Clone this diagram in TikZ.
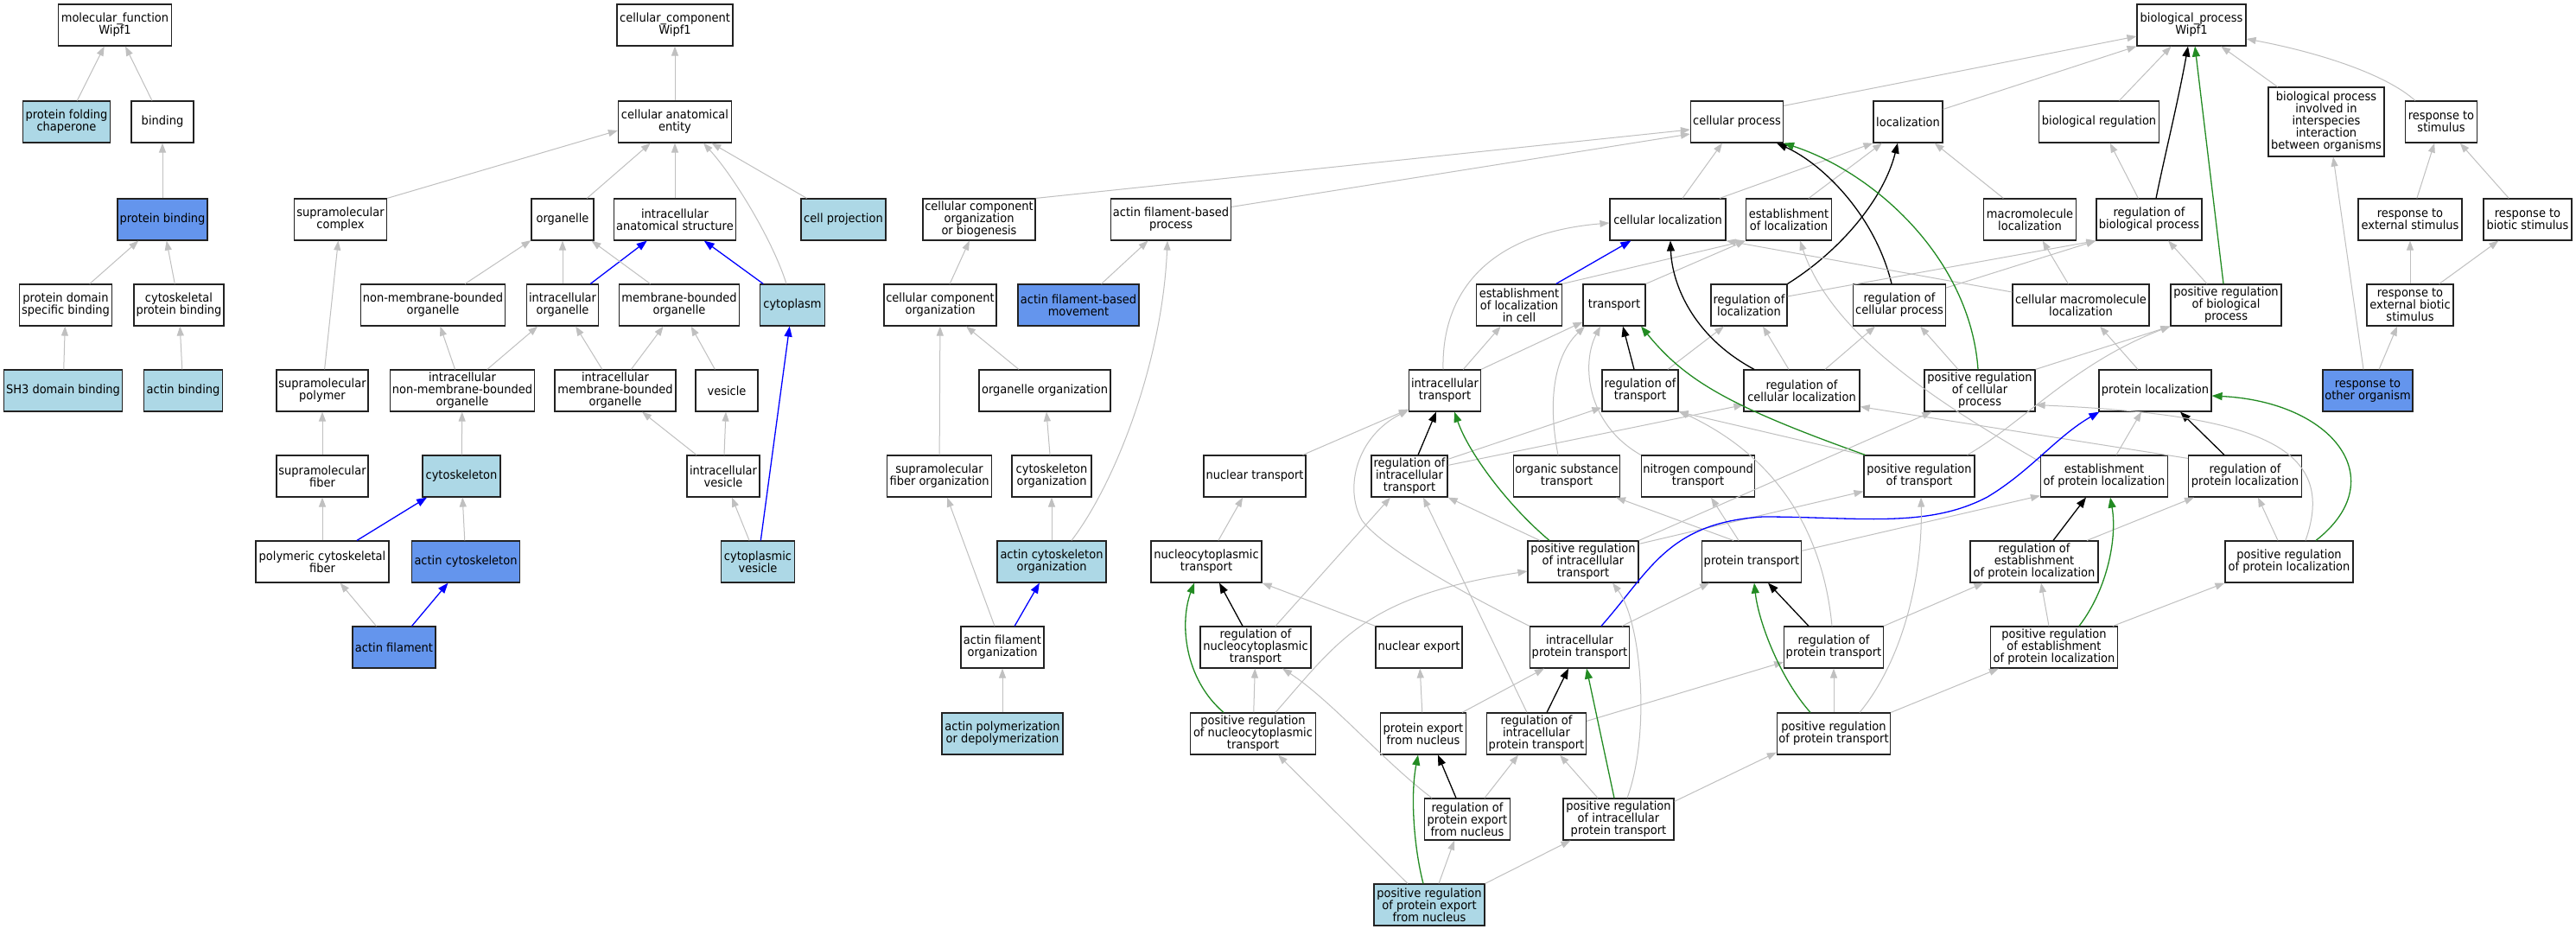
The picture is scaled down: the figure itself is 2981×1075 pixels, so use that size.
\documentclass[tikz,border=0pt]{standalone}
\usepackage{fontspec}
\setmainfont{DejaVu Sans}[FakeStretch=0.93]
\usetikzlibrary{arrows.meta}
\definecolor{edgegray}{HTML}{C0C0C0}
\definecolor{fgreen}{HTML}{228B22}
\definecolor{lblue}{HTML}{ADD8E6}
\definecolor{cblue}{HTML}{6495ED}
\definecolor{bordc}{HTML}{222222}
\newcommand{\nfont}{\fontsize{14pt}{14pt}\selectfont}
\tikzset{
  gobox/.style={draw=bordc, line width=1.15pt, fill=white, rectangle, minimum height=48pt,
    inner xsep=2pt, inner ysep=2pt, align=center, font=\nfont},
  lb/.style={gobox, fill=lblue},
  cb/.style={gobox, fill=cblue},
  ga/.style={draw=edgegray, line width=1.0pt, -{Triangle[length=11pt,width=8pt]}},
  ba/.style={draw=blue, line width=1.3pt, -{Triangle[length=12pt,width=9pt]}},
  ka/.style={draw=black, line width=1.3pt, -{Triangle[length=12pt,width=9pt]}},
  gr/.style={draw=fgreen, line width=1.3pt, -{Triangle[length=12pt,width=9pt]}}
}
\begin{document}
\begin{tikzpicture}[x=1pt,y=-1pt]
\useasboundingbox[fill=white] (0,0) rectangle (2981,1075);
% ---------- rank 0
\node[gobox,minimum width=131pt] (mf) at (133,29) {molecular\_function\\Wipf1};
\node[gobox,minimum width=134pt] (cc) at (781,29) {cellular\_component\\Wipf1};
\node[gobox,minimum width=126pt] (bp) at (2536,29) {biological\_process\\Wipf1};
% ---------- rank 1
\node[lb,minimum width=101pt] (pfc) at (77,141) {protein folding\\chaperone};
\node[gobox,minimum width=72pt] (bind) at (188,141) {binding};
\node[gobox,minimum width=131pt] (cae) at (781,141) {cellular anatomical\\entity};
\node[gobox,minimum width=107pt] (cp) at (2010,141) {cellular process};
\node[gobox,minimum width=80pt] (loc) at (2208,141) {localization};
\node[gobox,minimum width=139pt] (breg) at (2429,141) {biological regulation};
\node[gobox,minimum width=134pt,minimum height=80pt] (bpi) at (2692,141) {biological process\\involved in\\interspecies\\interaction\\between organisms};
\node[gobox,minimum width=83pt] (rs) at (2825,141) {response to\\stimulus};
% ---------- rank 2
\node[cb,minimum width=104pt] (pb) at (188,254) {protein binding};
\node[gobox,minimum width=107pt] (smc) at (394,254) {supramolecular\\complex};
\node[gobox,minimum width=72pt] (org) at (651,254) {organelle};
\node[gobox,minimum width=141pt] (ias) at (781,254) {intracellular\\anatomical structure};
\node[lb,minimum width=98pt] (cproj) at (976,254) {cell projection};
\node[gobox,minimum width=130pt] (ccob) at (1133,254) {cellular component\\organization\\or biogenesis};
\node[gobox,minimum width=139pt] (afbp) at (1355,254) {actin filament-based\\process};
\node[gobox,minimum width=134pt] (cloc) at (1930,254) {cellular localization};
\node[gobox,minimum width=99pt] (eloc) at (2070,254) {establishment\\of localization};
\node[gobox,minimum width=107pt] (mloc) at (2349,254) {macromolecule\\localization};
\node[gobox,minimum width=122pt] (rbp) at (2487,254) {regulation of\\biological process};
\node[gobox,minimum width=120pt] (res) at (2789,254) {response to\\external stimulus};
\node[gobox,minimum width=102pt] (rbs) at (2925,254) {response to\\biotic stimulus};
% ---------- rank 3
\node[gobox,minimum width=107pt] (pdsb) at (76,353) {protein domain\\specific binding};
\node[gobox,minimum width=104pt] (cpb) at (207,353) {cytoskeletal\\protein binding};
\node[gobox,minimum width=166pt] (nmbo) at (501,353) {non-membrane-bounded\\organelle};
\node[gobox,minimum width=83pt] (io) at (651,353) {intracellular\\organelle};
\node[gobox,minimum width=139pt] (mbo) at (786,353) {membrane-bounded\\organelle};
\node[lb,minimum width=75pt] (cyto) at (917,353) {cytoplasm};
\node[gobox,minimum width=130pt] (cco) at (1088,353) {cellular component\\organization};
\node[cb,minimum width=140pt] (afbm) at (1248,353) {actin filament-based\\movement};
\node[gobox,minimum width=99pt] (elic) at (1758,353) {establishment\\of localization\\in cell};
\node[gobox,minimum width=72pt] (tr) at (1868,353) {transport};
\node[gobox,minimum width=88pt] (rloc) at (2024,353) {regulation of\\localization};
\node[gobox,minimum width=107pt] (rcp) at (2198,353) {regulation of\\cellular process};
\node[gobox,minimum width=158pt] (cmloc) at (2408,353) {cellular macromolecule\\localization};
\node[gobox,minimum width=128pt] (prbp) at (2576,353) {positive regulation\\of biological\\process};
\node[gobox,minimum width=100pt] (rebs) at (2789,353) {response to\\external biotic\\stimulus};
% ---------- rank 4
\node[lb,minimum width=137pt] (sh3) at (73,452) {SH3 domain binding};
\node[lb,minimum width=91pt] (ab) at (212,452) {actin binding};
\node[gobox,minimum width=106pt] (smp) at (373,452) {supramolecular\\polymer};
\node[gobox,minimum width=167pt] (inmbo) at (535,452) {intracellular\\non-membrane-bounded\\organelle};
\node[gobox,minimum width=140pt] (imbo) at (712,452) {intracellular\\membrane-bounded\\organelle};
\node[gobox,minimum width=72pt] (ves) at (841,452) {vesicle};
\node[gobox,minimum width=152pt] (oo) at (1209,452) {organelle organization};
\node[gobox,minimum width=83pt] (itr) at (1672,452) {intracellular\\transport};
\node[gobox,minimum width=88pt] (rtr) at (1898,452) {regulation of\\transport};
\node[gobox,minimum width=134pt] (rcl) at (2085,452) {regulation of\\cellular localization};
\node[gobox,minimum width=128pt] (prcp) at (2291,452) {positive regulation\\of cellular\\process};
\node[gobox,minimum width=130pt] (ploc) at (2494,452) {protein localization};
\node[cb,minimum width=104pt] (roo) at (2740,452) {response to\\other organism};
% ---------- rank 5
\node[gobox,minimum width=106pt] (smf) at (373,551) {supramolecular\\fiber};
\node[lb,minimum width=90pt] (csk) at (534,551) {cytoskeleton};
\node[gobox,minimum width=84pt] (iv) at (837,551) {intracellular\\vesicle};
\node[gobox,minimum width=121pt] (sfo) at (1087,551) {supramolecular\\fiber organization};
\node[gobox,minimum width=92pt] (cso) at (1217,551) {cytoskeleton\\organization};
\node[gobox,minimum width=118pt] (ntr) at (1452,551) {nuclear transport};
\node[gobox,minimum width=88pt] (ritr) at (1631,551) {regulation of\\intracellular\\transport};
\node[gobox,minimum width=123pt] (ost) at (1813,551) {organic substance\\transport};
\node[gobox,minimum width=131pt] (nct) at (1965,551) {nitrogen compound\\transport};
\node[gobox,minimum width=128pt] (prtr) at (2221,551) {positive regulation\\of transport};
\node[gobox,minimum width=147pt] (epl) at (2435,551) {establishment\\of protein localization};
\node[gobox,minimum width=131pt] (rpl) at (2598,551) {regulation of\\protein localization};
% ---------- rank 6
\node[gobox,minimum width=154pt] (pcf) at (373,650) {polymeric cytoskeletal\\fiber};
\node[cb,minimum width=125pt] (acsk) at (539,650) {actin cytoskeleton};
\node[lb,minimum width=85pt] (cv) at (877,650) {cytoplasmic\\vesicle};
\node[lb,minimum width=126pt] (aco) at (1217,650) {actin cytoskeleton\\organization};
\node[gobox,minimum width=128pt] (nctr) at (1396,650) {nucleocytoplasmic\\transport};
\node[gobox,minimum width=128pt] (pritr) at (1832,650) {positive regulation\\of intracellular\\transport};
\node[gobox,minimum width=114pt] (ptr) at (2027,650) {protein transport};
\node[gobox,minimum width=148pt] (repl) at (2354,650) {regulation of\\establishment\\of protein localization};
\node[gobox,minimum width=148pt] (prpl) at (2649,650) {positive regulation\\of protein localization};
% ---------- rank 7
\node[cb,minimum width=96pt] (af) at (456,749) {actin filament};
\node[gobox,minimum width=96pt] (afo) at (1160,749) {actin filament\\organization};
\node[gobox,minimum width=128pt] (rnctr) at (1453,749) {regulation of\\nucleocytoplasmic\\transport};
\node[gobox,minimum width=100pt] (nexp) at (1642,749) {nuclear export};
\node[gobox,minimum width=115pt] (iptr) at (1828,749) {intracellular\\protein transport};
\node[gobox,minimum width=114pt] (rptr) at (2122,749) {regulation of\\protein transport};
\node[gobox,minimum width=147pt] (prepl) at (2377,749) {positive regulation\\of establishment\\of protein localization};
% ---------- rank 8
\node[lb,minimum width=140pt] (apd) at (1160,849) {actin polymerization\\or depolymerization};
\node[gobox,minimum width=145pt] (prnctr) at (1450,849) {positive regulation\\of nucleocytoplasmic\\transport};
\node[gobox,minimum width=99pt] (pen) at (1647,849) {protein export\\from nucleus};
\node[gobox,minimum width=115pt] (riptr) at (1778,849) {regulation of\\intracellular\\protein transport};
\node[gobox,minimum width=131pt] (prptr) at (2122,849) {positive regulation\\of protein transport};
% ---------- rank 9
\node[gobox,minimum width=99pt] (rpen) at (1698,948) {regulation of\\protein export\\from nucleus};
\node[gobox,minimum width=128pt] (priptr) at (1873,948) {positive regulation\\of intracellular\\protein transport};
% ---------- rank 10
\node[lb,minimum width=128pt] (prpen) at (1654,1047) {positive regulation\\of protein export\\from nucleus};

% ================= edges: molecular function
\draw[ga] (pfc) -- (mf);
\draw[ga] (bind) -- (mf);
\draw[ga] (pb) -- (bind);
\draw[ga] (pdsb) -- (pb);
\draw[ga] (cpb) -- (pb);
\draw[ga] (sh3) -- (pdsb);
\draw[ga] (ab) -- (cpb);
% ================= cellular component
\draw[ga] (cae) -- (cc);
\draw[ga] (smc.north east) -- ([yshift=-10pt]cae.west);
\draw[ga] (org) -- (cae);
\draw[ga] (ias) -- (cae);
\draw[ga] ([xshift=-7pt]cyto.north) .. controls (895,280) and (850,205) .. ([xshift=33pt]cae.south);
\draw[ga] (cproj) -- (cae);
\draw[ga] (nmbo) -- (org);
\draw[ga] (io) -- (org);
\draw[ba] (io) -- (ias);
\draw[ga] (mbo) -- (org);
\draw[ba] (cyto) -- (ias);
\draw[ga] (smp) -- (smc);
\draw[ga] (inmbo) -- (nmbo);
\draw[ga] (inmbo) -- (io);
\draw[ga] (imbo) -- (io);
\draw[ga] (imbo) -- (mbo);
\draw[ga] (ves) -- (mbo);
\draw[ga] (smf) -- (smp);
\draw[ga] (csk) -- (inmbo);
\draw[ga] (iv) -- (imbo);
\draw[ga] (iv) -- (ves);
\draw[ga] (pcf) -- (smf);
\draw[ba] (pcf) -- (csk);
\draw[ga] (acsk) -- (csk);
\draw[ga] (cv) -- (iv);
\draw[ba] (cv) -- (cyto);
\draw[ga] (af) -- (pcf);
\draw[ba] (af) -- (acsk);
% ================= actin / organization
\draw[ga] (ccob.north east) -- ([yshift=-9pt]cp.west);
\draw[ga] ([yshift=-10pt]afbp.north east) -- ([yshift=-14pt]cp.west);
\draw[ga] (afbm) -- (afbp);
\draw[ga] ([xshift=23pt]aco.north) .. controls (1290,560) and (1345,420) .. ([xshift=-4pt]afbp.south);
\draw[ga] (cco) -- (ccob);
\draw[ga] (sfo) -- (cco);
\draw[ga] (oo) -- (cco);
\draw[ga] (cso) -- (oo);
\draw[ga] (aco) -- (cso);
\draw[ga] (afo) -- (sfo);
\draw[ba] (afo) -- (aco);
\draw[ga] (apd) -- (afo);
% ================= biological process top
\draw[ga] ([yshift=-6pt]cp.north east) -- ([yshift=-13pt]bp.west);
\draw[ga] ([yshift=-10pt]loc.north east) -- (bp.south west);
\draw[ga] (breg) -- (bp);
\draw[ga] (bpi) -- (bp);
\draw[ga] ([xshift=12pt]rs.north west) .. controls (2760,85) and (2680,60) .. ([yshift=-16pt]bp.east);
\draw[ka] ([xshift=8pt]rbp.north) .. controls (2505,180) and (2520,120) .. ([xshift=-4pt]bp.south);
\draw[gr] ([xshift=-3pt]prbp.north) -- ([xshift=4pt]bp.south);
% rank 2 -> 1
\draw[ga] ([xshift=17pt]cloc.north) -- ([xshift=-17pt]cp.south);
\draw[ga] ([xshift=60pt]cloc.north) -- (loc.south west);
\draw[ga] ([xshift=23pt]eloc.north) -- ([xshift=-30pt]loc.south);
\draw[ga] (mloc) -- (loc);
\draw[ga] (rbp) -- (breg);
\draw[ga] (res) -- (rs);
\draw[ga] (rbs) -- (rs);
% rank 3 -> up
\draw[ka] (rloc.north east) .. controls (2130,290) and (2180,230) .. ([xshift=-12pt]loc.south);
\draw[ka] ([xshift=-9pt]rcp.north) .. controls (2170,250) and (2110,190) .. ([xshift=46pt]cp.south);
\draw[ga] ([yshift=10pt]rloc.east) -- (rbp.south west);
\draw[ga] ([yshift=20pt]rcp.east) -- (rbp.south west);
\draw[ga] (prbp) -- (rbp);
\draw[ga] (cmloc) -- (mloc);
\draw[ga] ([yshift=15pt]cmloc.west) -- (cloc.south east);
\draw[ba] (elic) -- (cloc);
\draw[ga] (elic.north east) -- (eloc.south west);
\draw[ga] (tr.north east) -- (eloc.south west);
\draw[ga] (rebs) -- (res);
\draw[ga] (rebs) -- (rbs);
% rank 4 -> up
\draw[gr] ([xshift=-2pt]prcp.north) .. controls (2280,300) and (2170,200) .. (cp.south east);
\draw[ga] (itr) -- (elic);
\draw[ga] (itr.north east) -- ([yshift=5pt]tr.south west);
\draw[ga] ([xshift=-2pt]itr.north) .. controls (1668,340) and (1720,270) .. ([yshift=-4pt]cloc.west);
\draw[ka] ([xshift=-7pt]rtr.north) -- ([xshift=10pt]tr.south);
\draw[ga] ([xshift=32pt]rtr.north) -- ([xshift=-29pt]rloc.south);
\draw[ka] ([xshift=-55pt]rcl.north) .. controls (1960,390) and (1935,330) .. ([xshift=3pt]cloc.south);
\draw[ga] ([xshift=-15pt]rcl.north) -- ([xshift=16pt]rloc.south);
\draw[ga] ([xshift=27pt]rcl.north) -- ([xshift=-28pt]rcp.south);
\draw[ga] ([xshift=-25pt]prcp.north) -- ([xshift=24pt]rcp.south);
\draw[ga] (prcp.north east) -- (prbp.south west);
\draw[ga] ([xshift=-20pt]ploc.north) -- ([xshift=22pt]cmloc.south);
\draw[ga] ([xshift=-5pt]roo.north) -- ([xshift=8pt]bpi.south);
\draw[ga] ([xshift=13pt]roo.north) -- ([xshift=-15pt]rebs.south);
% rank 5 -> up
\draw[ga] ([xshift=-4pt]ntr.north east) -- ([yshift=3pt]itr.south west);
\draw[ka] ([xshift=10pt]ritr.north) -- ([xshift=-10pt]itr.south);
\draw[ga] ([yshift=-5pt]ritr.north east) -- ([yshift=5pt]rtr.south west);
\draw[ga] ([yshift=-12pt]ritr.north east) -- ([yshift=8pt]rcl.south west);
\draw[ga] ([xshift=-10pt]ost.north) .. controls (1790,460) and (1800,410) .. ([xshift=-34pt]tr.south);
\draw[ga] (nct.north west) .. controls (1835,490) and (1830,420) .. ([xshift=-16pt]tr.south);
\draw[ga] (prtr.north west) -- (rtr.south east);
\draw[gr] ([xshift=2pt]prtr.north west) .. controls (2000,470) and (1950,440) .. ([xshift=31pt]tr.south);
\draw[ga] ([xshift=-9pt]prtr.north east) .. controls (2340,490) and (2400,420) .. (prbp.south west);
\draw[ga] ([yshift=-8pt]epl.north west) .. controls (2250,470) and (2120,390) .. ([xshift=13pt]eloc.south);
\draw[ga] ([xshift=14pt]epl.north) -- ([xshift=-16pt]ploc.south);
\draw[ka] ([xshift=-24pt]rpl.north) -- ([xshift=29pt]ploc.south);
\draw[ga] ([yshift=-4pt]rpl.north west) -- ([yshift=6pt]rcl.south east);
% rank 6 -> up
\draw[ga] (nctr) -- (ntr);
\draw[gr] ([xshift=-39pt]pritr.north) .. controls (1745,585) and (1700,525) .. ([xshift=11pt]itr.south);
\draw[ga] ([xshift=-50pt]pritr.north) -- (ritr.south east);
\draw[ga] ([yshift=-4pt]pritr.north east) -- ([yshift=7pt]prtr.south west);
\draw[ga] (pritr.north east) -- ([xshift=9pt]prcp.south west);
\draw[ga] ([xshift=-21pt]ptr.north) -- ([xshift=57pt]ost.south);
\draw[ga] ([xshift=-15pt]ptr.north) -- ([xshift=15pt]nct.south);
\draw[ga] ([yshift=-12pt]ptr.north east) -- ([yshift=2pt]epl.south west);
\draw[ka] ([xshift=22pt]repl.north) -- ([xshift=-21pt]epl.south);
\draw[ga] ([xshift=61pt]repl.north) -- ([xshift=-59pt]rpl.south);
\draw[ga] ([xshift=-13pt]prpl.north) -- ([xshift=15pt]rpl.south);
\draw[gr] ([xshift=31pt]prpl.north) .. controls (2770,555) and (2700,465) .. ([yshift=-6pt]ploc.east);
\draw[ga] ([xshift=19pt]prpl.north) .. controls (2705,520) and (2620,480) .. ([yshift=8pt]prcp.south east);
% rank 7 -> up
\draw[ka] ([xshift=-15pt]rnctr.north) -- ([xshift=15pt]nctr.south);
\draw[ga] ([xshift=23pt]rnctr.north) -- ([xshift=-22pt]ritr.south);
\draw[ga] (nexp.north west) -- (nctr.south east);
\draw[ga] ([xshift=-9pt]iptr.north east) -- ([xshift=9pt]ptr.south west);
\draw[ga] (iptr.north west) .. controls (1700,690) and (1600,635) .. (1576,602)
   .. controls (1555,565) and (1570,505) .. ([yshift=2pt]itr.south west);
\draw[ba] ([xshift=25pt]iptr.north) .. controls (1910,660) and (1930,605) .. (2040,598)
   .. controls (2150,598) and (2230,612) .. (2300,575)
   .. controls (2350,545) and (2380,505) .. ([xshift=1pt]ploc.south west);
\draw[ka] ([xshift=-29pt]rptr.north) -- ([xshift=19pt]ptr.south);
\draw[ga] ([xshift=-2pt]rptr.north) .. controls (2110,620) and (2060,530) .. ([yshift=1pt]rtr.south east);
\draw[ga] (rptr.north east) -- ([xshift=16pt]repl.south west);
\draw[ga] ([xshift=-6pt]prepl.north) -- ([xshift=8pt]repl.south);
\draw[gr] ([xshift=29pt]prepl.north) .. controls (2440,680) and (2450,620) .. ([xshift=7pt]epl.south);
\draw[ga] ([xshift=68pt]prepl.north) -- (prpl.south west);
% rank 8 -> up
\draw[gr] ([xshift=-34pt]prnctr.north) .. controls (1370,785) and (1365,720) .. ([xshift=-14pt]nctr.south);
\draw[ga] (prnctr) -- (rnctr);
\draw[ga] ([xshift=26pt]prnctr.north) .. controls (1550,740) and (1580,690) .. ([yshift=-11pt]pritr.west);
\draw[ga] (pen) -- (nexp);
\draw[ga] ([xshift=45pt]pen.north) -- ([xshift=-41pt]iptr.south);
\draw[ka] ([xshift=12pt]riptr.north) -- ([xshift=-13pt]iptr.south);
\draw[ga] ([yshift=-10pt]riptr.north east) -- ([yshift=-17pt]rptr.west);
\draw[ga] ([xshift=-11pt]riptr.north) -- ([xshift=16pt]ritr.south);
\draw[ga] (prptr) -- (rptr);
\draw[gr] ([xshift=-27pt]prptr.north) .. controls (2060,785) and (2035,720) .. ([xshift=3pt]ptr.south);
\draw[ga] ([xshift=30pt]prptr.north) .. controls (2205,760) and (2225,660) .. ([xshift=2pt]prtr.south);
\draw[ga] (prptr.north east) -- ([xshift=10pt]prepl.south west);
% rank 9 -> up
\draw[ka] ([xshift=-13pt]rpen.north) -- ([xshift=17pt]pen.south);
\draw[ga] ([xshift=20pt]rpen.north) -- ([xshift=-21pt]riptr.south);
\draw[ga] ([xshift=-41pt]rpen.north) .. controls (1600,880) and (1540,810) .. ([xshift=31pt]rnctr.south);
\draw[gr] ([xshift=-5pt]priptr.north) -- ([xshift=8pt]iptr.south);
\draw[ga] ([xshift=-24pt]priptr.north) -- ([xshift=27pt]riptr.south);
\draw[ga] ([xshift=10pt]priptr.north) .. controls (1910,850) and (1900,720) .. ([xshift=34pt]pritr.south);
\draw[ga] ([yshift=-4pt]priptr.north east) -- ([yshift=3pt]prptr.south west);
% rank 10 -> up
\draw[ga] ([xshift=11pt]prpen.north) -- ([xshift=-15pt]rpen.south);
\draw[gr] ([xshift=-7pt]prpen.north) .. controls (1636,980) and (1632,920) .. ([xshift=-6pt]pen.south);
\draw[ga] ([xshift=-25pt]prpen.north) -- ([xshift=29pt]prnctr.south);
\draw[ga] (prpen.north east) -- ([xshift=9pt]priptr.south west);
\end{tikzpicture}
\end{document}
